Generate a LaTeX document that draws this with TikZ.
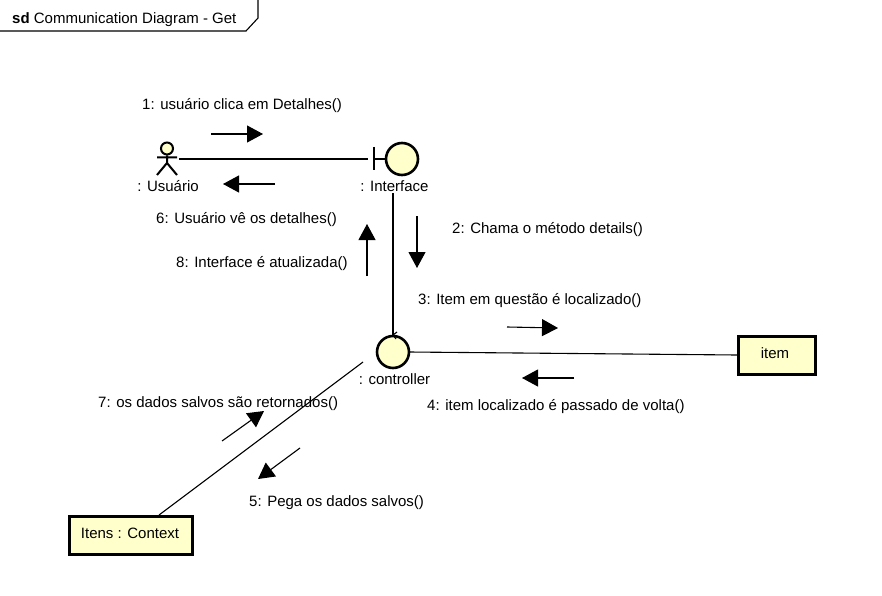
\documentclass[tikz,border=0pt]{standalone}
\usepackage{fontspec}
\setmainfont{Liberation Sans}
\usetikzlibrary{arrows.meta}
\definecolor{umlfill}{HTML}{FFFFCC}
\tikzset{
  lbl/.style={anchor=base west,inner sep=0pt,font=\fontsize{15}{17}\selectfont},
  ctr/.style={anchor=base,inner sep=0pt,font=\fontsize{15}{17}\selectfont},
  objbox/.style={draw=black,line width=3pt,fill=umlfill,inner sep=0pt},
  roundel/.style={circle,draw=black,line width=2.6pt,fill=umlfill,inner sep=0pt,minimum size=32pt},
  link/.style={draw=black,line width=1.1pt},
  msg/.style={draw=black,line width=1.1pt,-{Triangle[length=16pt,width=17pt]}},
  thick line/.style={draw=black,line width=2pt}
}
\begin{document}
\begin{tikzpicture}[x=1pt,y=-1pt]
\useasboundingbox (0,0) rectangle (882,596);
% frame
\coordinate (f1) at (0,31);
\coordinate (f2) at (246,31);
\coordinate (f3) at (258,18);
\coordinate (f4) at (258,0);
\draw[link] (f1) -- (f2) -- (f3) -- (f4);
\node[lbl] (title) at (12,23.5) {\textbf{sd} Communication Diagram - Get};
% actor
\node[circle,draw=black,line width=2pt,fill=umlfill,inner sep=0pt,minimum size=12pt] (head) at (167,148.5) {};
\coordinate (hip) at (167,163);
\coordinate (armL) at (157,157.5);
\coordinate (armR) at (177,157.5);
\coordinate (legL) at (157,175);
\coordinate (legR) at (177,175);
\draw[thick line] (head.south) -- (hip) (armL) -- (armR) (legL) -- (hip) -- (legR);
\node[ctr] (usr) at (168,191) {: Usuário};
\coordinate (usrR) at (179,159);
% boundary
\node[roundel] (iface) at (402,159) {};
\coordinate (barT) at (374,147);
\coordinate (barB) at (374,170);
\coordinate (barM) at (374,159);
\coordinate (barL) at (368,159);
\draw[thick line] (barT) -- (barB) (barM) -- (iface.west);
\node[ctr] (ifl) at (394.5,191) {: Interface};
\draw[link] (usrR) -- (barL);
% controller
\node[roundel] (ctl) at (393,352) {};
\node[ctr] (ctll) at (394.5,384) {: controller};
\coordinate (ifB) at (393,193);
\coordinate (ctT) at (393,335);
\coordinate (t1) at (397,332);
\coordinate (t2) at (396,339);
\draw[link] (ifB) -- (ctT);
\draw[link] (t1) -- (ctT) -- (t2);
% objects
\node[objbox,minimum width=77pt,minimum height=38pt] (item) at (776.5,355) {};
\node[ctr] (iteml) at (775,358) {item};
\node[objbox,minimum width=123pt,minimum height=38pt] (ctx) at (130.5,535) {};
\node[ctr] (ctxl) at (130,538) {Itens : Context};
\coordinate (ctlE) at (409,352);
\coordinate (itemW) at (737,355);
\draw[link] (ctlE) -- (itemW);
\coordinate (ctlSW) at (363,362);
\coordinate (ctxN) at (159,515);
\draw[link] (ctlSW) -- (ctxN);
% message arrows
\coordinate (a1s) at (211,134); \coordinate (a1e) at (263,134);
\coordinate (a6s) at (275,184); \coordinate (a6e) at (223,184);
\coordinate (a2s) at (417,216); \coordinate (a2e) at (417,268);
\coordinate (a8s) at (367,276); \coordinate (a8e) at (367,224);
\coordinate (a3s) at (507,327); \coordinate (a3e) at (558,328);
\coordinate (a4s) at (574,378); \coordinate (a4e) at (522,378);
\coordinate (a7s) at (222,441); \coordinate (a7e) at (264,411);
\coordinate (a5s) at (300,448); \coordinate (a5e) at (258,479);
\draw[msg] (a1s) -- (a1e);
\draw[msg] (a6s) -- (a6e);
\draw[msg] (a2s) -- (a2e);
\draw[msg] (a8s) -- (a8e);
\draw[msg] (a3s) -- (a3e);
\draw[msg] (a4s) -- (a4e);
\draw[msg] (a7s) -- (a7e);
\draw[msg] (a5s) -- (a5e);
% labels
\node[lbl] (m1) at (142,109.5) {1: usuário clica em Detalhes()};
\node[lbl] (m6) at (156,223) {6: Usuário vê os detalhes()};
\node[lbl] (m8) at (176,267) {8: Interface é atualizada()};
\node[lbl] (m2) at (452,233) {2: Chama o método details()};
\node[lbl] (m3) at (418,304) {3: Item em questão é localizado()};
\node[lbl] (m4) at (427,410) {4: item localizado é passado de volta()};
\node[lbl] (m7) at (98,407) {7: os dados salvos são retornados()};
\node[lbl] (m5) at (249,506) {5: Pega os dados salvos()};
\end{tikzpicture}
\end{document}
